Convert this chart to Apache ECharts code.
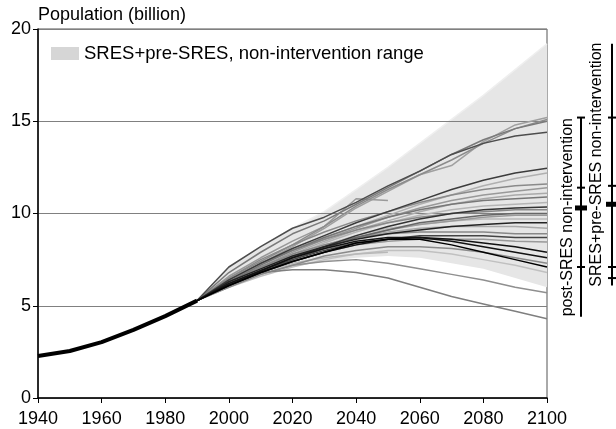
<!DOCTYPE html>
<html>
<head>
<meta charset="utf-8">
<script src="https://cdn.jsdelivr.net/npm/echarts@6/dist/echarts.min.js"></script>
<style>
html,body{margin:0;padding:0;background:#fff;}
#chart{width:616px;height:429px;}
</style>
</head>
<body>
<div id="chart"></div>
<script>
// ---------- DATA ----------
const histYears = [1940, 1950, 1960, 1970, 1980, 1990];
const histPop = [2.28, 2.55, 3.03, 3.69, 4.44, 5.28];

const projYears = [1990, 2000, 2010, 2020, 2030, 2040, 2050, 2060, 2070, 2080, 2090, 2100];
const rangeName = 'SRES+pre-SRES, non-intervention range';
const rangeLow  = [5.28, 6.05, 6.6, 7.1, 7.4, 7.6, 7.7, 7.6, 7.3, 7.0, 6.5, 6.0];
const rangeHigh = [5.28, 7.1, 8.2, 9.2, 10.1, 11.3, 12.5, 13.8, 15.1, 16.4, 17.8, 19.2];

const sA = [5.28, 7.1, 8.2, 9.2, 9.8, 10.6, 11.5, 12.3, 13.2, 13.8, 14.2, 14.4];
const sB = [5.28, 6.5, 7.4, 8.3, 9.3, 10.4, 11.3, 12.1, 12.9, 13.8, 14.6, 15.1];
const sC = [5.28, 6.4, 7.3, 8.2, 9.2, 10.3, 11.2, 12.1, 12.6, 13.9, 14.8, 15.2];
const sD = [5.28, 6.8, 7.9, 8.9, 9.6, 10.5, 11.4, 12.3, 13.2, 14.0, 14.6, 15.0];
const sE = [5.28, 6.4, 7.3, 8.1, 8.8, 9.5, 10.1, 10.7, 11.3, 11.8, 12.2, 12.45];
const sF = [5.28, 6.3, 7.2, 8.0, 8.7, 9.3, 9.9, 10.5, 11.0, 11.5, 11.9, 12.2];
const sG = [5.28, 6.5, 7.5, 8.3, 9.0, 9.6, 10.1, 10.6, 11.0, 11.3, 11.5, 11.6];
const sH = [5.28, 6.3, 7.1, 7.9, 8.6, 9.2, 9.8, 10.3, 10.7, 11.0, 11.2, 11.4];
const sI = [5.28, 6.2, 7.0, 7.8, 8.5, 9.1, 9.6, 10.1, 10.5, 10.8, 11.0, 11.1];
const sJ = [5.28, 6.3, 7.2, 8.0, 8.7, 9.3, 9.8, 10.2, 10.5, 10.7, 10.8, 10.9];
const sK = [5.28, 6.2, 7.0, 7.7, 8.4, 9.0, 9.5, 9.9, 10.2, 10.4, 10.5, 10.6];
const sL = [5.28, 6.2, 6.9, 7.6, 8.2, 8.8, 9.3, 9.7, 10.0, 10.2, 10.3, 10.35];
const sM = [5.28, 6.4, 7.3, 8.0, 8.6, 9.1, 9.5, 9.8, 10.0, 10.1, 10.2, 10.2];
const sN = [5.28, 6.1, 6.8, 7.5, 8.1, 8.7, 9.1, 9.5, 9.7, 9.9, 10.0, 10.0];
const sO = [5.28, 6.1, 6.9, 7.6, 8.2, 8.7, 9.1, 9.4, 9.6, 9.8, 9.9, 9.9];
const sP = [5.28, 6.2, 7.0, 7.7, 8.3, 8.8, 9.2, 9.4, 9.6, 9.7, 9.7, 9.7];
const sQ = [5.28, 6.3, 7.0, 7.7, 8.2, 8.6, 8.9, 9.1, 9.3, 9.4, 9.5, 9.5];
const sR = [5.28, 6.2, 7.0, 7.7, 8.3, 8.7, 9.0, 9.2, 9.3, 9.3, 9.3, 9.2];
const sS = [5.28, 6.3, 7.1, 7.8, 8.3, 8.7, 8.9, 9.0, 9.0, 9.0, 8.9, 8.9];
const sT = [5.28, 6.2, 6.9, 7.5, 8.0, 8.4, 8.6, 8.8, 8.8, 8.8, 8.7, 8.7];
const sU = [5.28, 6.1, 6.8, 7.4, 7.9, 8.3, 8.5, 8.6, 8.6, 8.6, 8.5, 8.45];
const sV = [5.28, 6.1, 6.8, 7.4, 7.9, 8.3, 8.6, 8.7, 8.6, 8.4, 8.2, 7.9];
const sW = [5.28, 6.2, 6.9, 7.6, 8.1, 8.5, 8.7, 8.7, 8.5, 8.2, 7.9, 7.6];
const sX = [5.28, 6.1, 6.8, 7.4, 7.9, 8.4, 8.6, 8.6, 8.3, 7.9, 7.5, 7.1];
const sY = [5.28, 6.0, 6.7, 7.2, 7.7, 8.0, 8.2, 8.2, 8.1, 7.9, 7.6, 7.3];
const sZ = [5.28, 6.0, 6.6, 7.1, 7.5, 7.8, 8.0, 8.0, 7.8, 7.5, 7.2, 6.8];
const post1 = [5.28, 6.1, 6.7, 7.2, 7.4, 7.5, 7.3, 7.0, 6.7, 6.4, 6.0, 5.7];
const post2 = [5.28, 6.2, 6.8, 6.95, 6.95, 6.8, 6.5, 6.0, 5.5, 5.1, 4.7, 4.3];
const short1 = [5.28, 6.1, 6.8, 7.3, 7.6, 7.8, 7.9];
const short2 = [5.28, 6.6, 7.6, 8.5, 9.3, 10.8, 10.7];
const short3 = [5.28, 6.3, 7.1, 7.7, 8.1, 8.4, 8.5];

const scenarios = [sA, sB, sC, sD, sE, sF, sG, sH, sI, sJ, sK, sL, sM, sN, sO, sP, sQ, sR, sS, sT, sU, sV, sW, sX, sY, sZ, post1, post2, short1, short2, short3];

const xTicks = [1940, 1960, 1980, 2000, 2020, 2040, 2060, 2080, 2100];
const yTicks = [0, 5, 10, 15, 20];

const bracketLabels = ['post-SRES non-intervention', 'SRES+pre-SRES non-intervention'];
const bracketLow = [4.4, 6.1];
const bracketHigh = [15.2, 19.2];
const bracketTicks = [[15.2, 11.4, 7.1], [15.2, 11.5, 7.1, 6.5]];
const bracketMid = [10.3, 10.5];

// ---------- STYLE (separate from data) ----------
const shades = ['#4d4d4d', '#8c8c8c', '#a0a0a0', '#7a7a7a', '#3c3c3c', '#b0b0b0', '#8a8a8a', '#999999', '#aaaaaa', '#777777',
  '#b5b5b5', '#333333', '#888888', '#666666', '#9a9a9a', '#bbbbbb', '#222222', '#aaaaaa', '#888888', '#444444',
  '#999999', '#111111', '#111111', '#000000', '#8a8a8a', '#c0c0c0', '#8f8f8f', '#7f7f7f', '#b8b8b8', '#999999', '#aaaaaa'];
const FONT = '"Liberation Sans", Arial, Helvetica, sans-serif';

// ---------- BUILD ----------
const chart = echarts.init(document.getElementById('chart'), null, {renderer: 'canvas'});

const series = [];
series.push({
  name: rangeName, type: 'custom', silent: true, z: 1,
  itemStyle: {color: '#d6d6d6'},
  data: [[projYears[0], rangeLow[0]]],
  encode: {x: 0, y: 1},
  renderItem: function (params, api) {
    const pts = [];
    projYears.forEach((y, i) => pts.push(api.coord([y, rangeHigh[i]])));
    for (let i = projYears.length - 1; i >= 0; i--) pts.push(api.coord([projYears[i], rangeLow[i]]));
    const top = projYears.map((y, i) => api.coord([y, rangeHigh[i]]));
    return {type: 'group', children: [
      {type: 'polygon', shape: {points: pts}, style: {fill: '#e6e6e6', stroke: null}},
      {type: 'polyline', shape: {points: top}, style: {fill: null, stroke: '#efefef', lineWidth: 1.5}}
    ]};
  }
});

function lum(hex) { return parseInt(hex.slice(1, 3), 16); }
const order = scenarios.map((s, i) => i).sort((a, b) => lum(shades[b]) - lum(shades[a]));
order.forEach((idx, k) => {
  const vals = scenarios[idx];
  series.push({
    name: 'scen' + idx, type: 'line', symbol: 'none', silent: true,
    data: vals.map((v, i) => [projYears[i], v]),
    lineStyle: {color: shades[idx], width: 1.5},
    z: 2 + k * 0.01
  });
});

series.push({
  name: 'history', type: 'line', symbol: 'none', silent: true,
  data: histYears.map((y, i) => [y, histPop[i]]),
  lineStyle: {color: '#000', width: 4}, z: 3
});

series.push({
  name: 'brackets', type: 'custom', silent: true, clip: false, z: 4,
  data: bracketLabels.map((t, i) => [2100, bracketLow[i], bracketHigh[i], i]),
  encode: {x: 0, y: [1, 2]},
  renderItem: function (params, api) {
    const i = api.value(3);
    const yLo = api.coord([2100, api.value(1)])[1];
    const yHi = api.coord([2100, api.value(2)])[1];
    const xr = params.coordSys.x + params.coordSys.width;
    const lx = xr + [34, 65][i];
    const tx = xr + [21, 50][i];
    const children = [{
      type: 'line', shape: {x1: lx, y1: yHi, x2: lx, y2: yLo},
      style: {stroke: '#000', lineWidth: 2}
    }];
    bracketTicks[i].forEach(t => {
      const ty = api.coord([2100, t])[1];
      children.push({type: 'line', shape: {x1: lx - 4, y1: ty, x2: lx + 4, y2: ty}, style: {stroke: '#000', lineWidth: 2}});
    });
    const my = api.coord([2100, bracketMid[i]])[1];
    children.push({type: 'rect', shape: {x: lx - 6, y: my - 2.5, width: 12, height: 5}, style: {fill: '#000'}});
    children.push({
      type: 'text', x: tx, y: (yLo + yHi) / 2, rotation: Math.PI / 2,
      style: {text: bracketLabels[i], fontSize: 16, fontFamily: FONT, fill: '#000', align: 'center', verticalAlign: 'middle'}
    });
    return {type: 'group', children: children};
  }
});

chart.setOption({
  animation: false,
  backgroundColor: '#fff',
  grid: {left: 38, right: 69, top: 29, bottom: 31, show: true, borderColor: '#555', borderWidth: 1},
  legend: {
    left: 51, top: 44, padding: 0, itemWidth: 28, itemHeight: 13,
    textStyle: {fontSize: 18.5, color: '#000', fontFamily: FONT},
    data: [{name: rangeName, icon: 'rect', itemStyle: {color: '#d6d6d6'}}],
    selectedMode: false
  },
  xAxis: {
    type: 'value', min: xTicks[0], max: xTicks[xTicks.length - 1], interval: xTicks[1] - xTicks[0],
    z: 1.5,
    axisLine: {show: true, onZero: false, lineStyle: {color: '#000', width: 1.5}},
    axisTick: {show: true, length: 5, lineStyle: {color: '#000', width: 1}},
    axisLabel: {fontSize: 18, color: '#000', fontFamily: FONT, margin: 12, formatter: v => String(v)},
    splitLine: {show: false}
  },
  yAxis: {
    type: 'value', min: yTicks[0], max: yTicks[yTicks.length - 1], interval: yTicks[1] - yTicks[0],
    z: 1.5,
    name: 'Population (billion)', nameLocation: 'end', nameGap: 5,
    nameTextStyle: {fontSize: 18, color: '#000', fontFamily: FONT, align: 'left'},
    axisLine: {show: true, lineStyle: {color: '#000', width: 1.5}},
    axisTick: {show: true, length: 5, lineStyle: {color: '#000', width: 1}},
    axisLabel: {fontSize: 18, color: '#000', fontFamily: FONT, margin: 7},
    splitLine: {show: true, lineStyle: {color: '#808080', width: 1}}
  },
  series: series
});
</script>
</body>
</html>
